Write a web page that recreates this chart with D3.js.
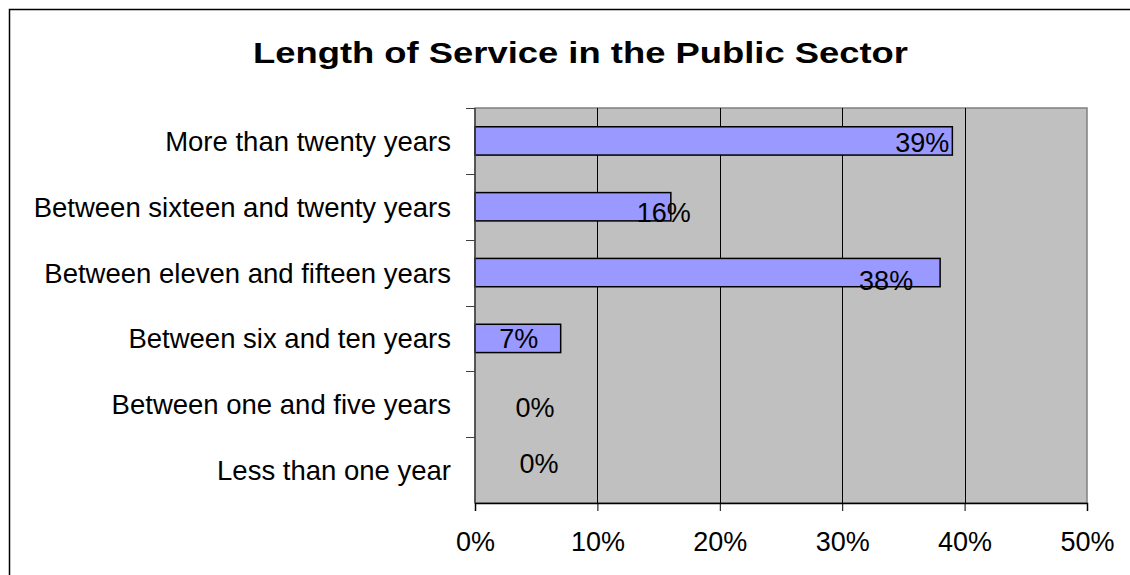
<!DOCTYPE html>
<html lang="en">
    <head>
        <meta charset="utf-8">
        <title>Length of Service in the Public Sector</title>
        <script type="text/javascript" src="https://cdn.jsdelivr.net/npm/d3@7"></script>
        <style>
            body { margin: 0; background: #fff; }
            svg { display: block; font-family: "Liberation Sans", Arial, sans-serif; }
        </style>
    </head>
    <body>
        <script type="text/javascript">

            //Width and height
            var w = 1130;
            var h = 575;

            //Data
            var categories = [
                "More than twenty years",
                "Between sixteen and twenty years",
                "Between eleven and fifteen years",
                "Between six and ten years",
                "Between one and five years",
                "Less than one year"
            ];
            var values = [39, 16, 38, 7, 0, 0];
            var xTicks = [0, 10, 20, 30, 40, 50];

            //Hand-placed data labels, like the original (dx from bar end, dy from bar centre)
            var labelNudge = [[-30, 1], [-7, 5], [-54, 7], [-42, 0], [60, 3], [64, -7]];

            //Plot area
            var plot = { left: 475, right: 1087, top: 108, bottom: 503 };

            var xScale = d3.scaleLinear()
                            .domain([0, 50])
                            .range([plot.left, plot.right]);

            var yScale = d3.scaleBand()
                            .domain(categories)
                            .range([plot.top, plot.bottom])
                            .paddingInner(0.57)
                            .paddingOuter(0.285);

            var svg = d3.select("body")
                        .append("svg")
                        .attr("width", w)
                        .attr("height", h);

            //Outer frame
            svg.append("rect")
                .attr("x", 9.5)
                .attr("y", 9.5)
                .attr("width", w + 20)
                .attr("height", h + 20)
                .attr("fill", "#fff")
                .attr("stroke", "#000")
                .attr("stroke-width", 1.5);

            //Title (the original is stretched wide)
            svg.append("text")
                .attr("x", 253)
                .attr("y", 63)
                .attr("font-size", "29px")
                .attr("font-weight", "bold")
                .attr("textLength", 655)
                .attr("lengthAdjust", "spacingAndGlyphs")
                .text("Length of Service in the Public Sector");

            //Plot background
            svg.append("rect")
                .attr("x", plot.left)
                .attr("y", plot.top)
                .attr("width", plot.right - plot.left)
                .attr("height", plot.bottom - plot.top)
                .attr("fill", "#c0c0c0")
                .attr("stroke", "#808080")
                .attr("stroke-width", 1.5);

            //Vertical gridlines
            svg.selectAll("line.grid")
                .data(xTicks.slice(1, -1))
                .enter()
                .append("line")
                .attr("class", "grid")
                .attr("x1", function(d) { return Math.round(xScale(d)) + 0.5; })
                .attr("x2", function(d) { return Math.round(xScale(d)) + 0.5; })
                .attr("y1", plot.top)
                .attr("y2", plot.bottom)
                .attr("stroke", "#000")
                .attr("stroke-width", 1);

            //Bars
            svg.selectAll("rect.bar")
                .data(values.map(function(v, i) { return { cat: categories[i], v: v }; })
                            .filter(function(d) { return d.v > 0; }))
                .enter()
                .append("rect")
                .attr("class", "bar")
                .attr("x", xScale(0))
                .attr("y", function(d) { return yScale(d.cat); })
                .attr("width", function(d) { return xScale(d.v) - xScale(0); })
                .attr("height", yScale.bandwidth())
                .attr("fill", "#9999ff")
                .attr("stroke", "#000")
                .attr("stroke-width", 1.5);

            //X axis
            var xAxis = d3.axisBottom(xScale)
                            .tickValues(xTicks)
                            .tickSize(8)
                            .tickFormat(function(d) { return d + "%"; });

            var gx = svg.append("g")
                        .attr("transform", "translate(0," + plot.bottom + ")")
                        .call(xAxis);
            gx.select(".domain").attr("stroke", "#000").attr("stroke-width", 1.5);
            gx.selectAll(".tick line").attr("stroke", "#000");
            gx.selectAll(".tick text")
                .attr("font-family", "Liberation Sans, Arial, sans-serif")
                .attr("font-size", "27px")
                .attr("fill", "#000")
                .attr("dy", 0)
                .attr("y", 48);

            //Y axis: ticks at category boundaries
            var yLine = svg.append("g");
            yLine.append("line")
                .attr("x1", plot.left)
                .attr("x2", plot.left)
                .attr("y1", plot.top)
                .attr("y2", plot.bottom)
                .attr("stroke", "#404040")
                .attr("stroke-width", 1.5);

            var step = yScale.step();
            yLine.selectAll("line.ytick")
                .data(d3.range(categories.length))
                .enter()
                .append("line")
                .attr("class", "ytick")
                .attr("x1", plot.left - 9)
                .attr("x2", plot.left)
                .attr("y1", function(i) { return Math.round(plot.top + i * step) + 0.5; })
                .attr("y2", function(i) { return Math.round(plot.top + i * step) + 0.5; })
                .attr("stroke", "#404040")
                .attr("stroke-width", 1);

            //Category labels
            svg.selectAll("text.cat")
                .data(categories)
                .enter()
                .append("text")
                .attr("class", "cat")
                .attr("x", 451)
                .attr("y", function(d) { return yScale(d) + yScale.bandwidth() / 2 + 10; })
                .attr("text-anchor", "end")
                .attr("font-size", "27.5px")
                .attr("fill", "#000")
                .text(function(d) { return d; });

            //Value labels
            svg.selectAll("text.val")
                .data(values)
                .enter()
                .append("text")
                .attr("class", "val")
                .attr("x", function(d, i) { return xScale(d) + labelNudge[i][0]; })
                .attr("y", function(d, i) { return yScale(categories[i]) + yScale.bandwidth() / 2 + labelNudge[i][1] + 10; })
                .attr("text-anchor", "middle")
                .attr("font-size", "27px")
                .attr("fill", "#000")
                .text(function(d) { return d + "%"; });

        </script>
    </body>
</html>
